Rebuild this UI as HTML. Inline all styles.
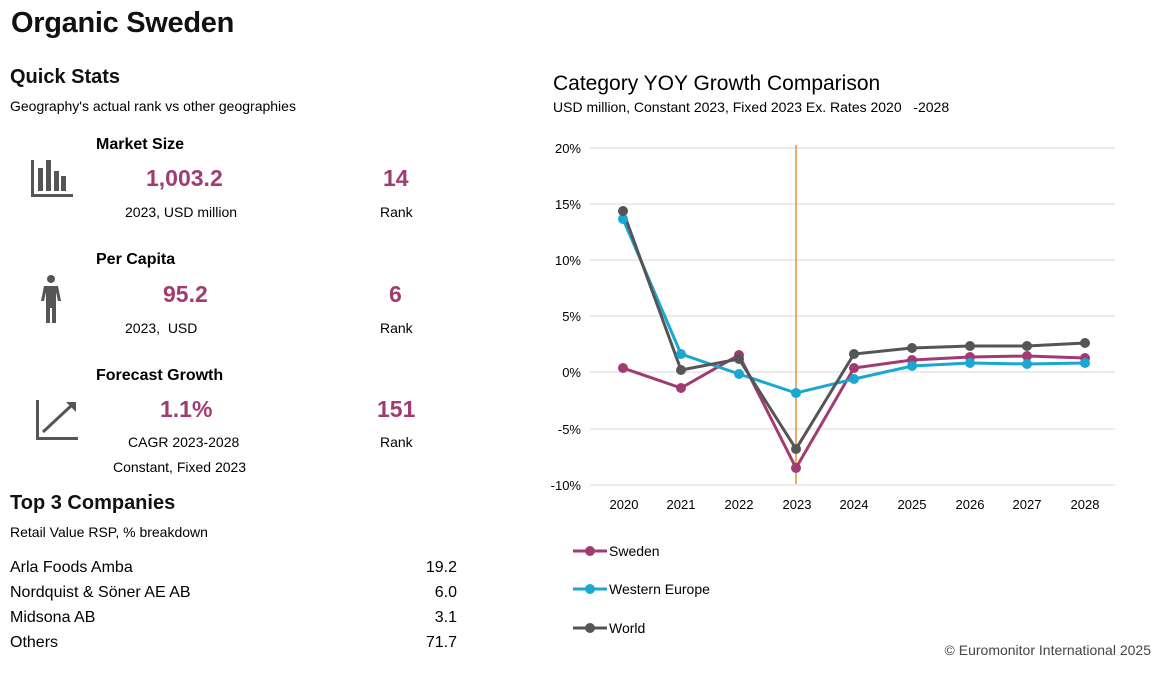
<!DOCTYPE html>
<html><head><meta charset="utf-8"><style>
body{margin:0;width:1166px;height:678px;background:#fff;font-family:"Liberation Sans",sans-serif;color:#000;position:relative;overflow:hidden}
.a{position:absolute;white-space:nowrap}
.big{color:#a23b72;font-weight:bold;font-size:23px}
.h{font-weight:bold;font-size:16px}
.s{font-size:14px}
</style></head><body>
<div class="a" style="left:11px;top:7px;font-size:29px;font-weight:bold;letter-spacing:-0.3px;color:#111">Organic Sweden</div>
<div class="a" style="left:10px;top:66px;font-size:20px;font-weight:bold;color:#111">Quick Stats</div>
<div class="a s" style="left:10px;top:98px;">Geography's actual rank vs other geographies</div>

<div class="a h" style="left:96px;top:136px;">Market Size</div>
<div class="a big" style="left:146px;top:165px;">1,003.2</div>
<div class="a s" style="left:125px;top:204px;">2023, USD million</div>
<div class="a big" style="left:383px;top:165px;">14</div>
<div class="a s" style="left:380px;top:204px;">Rank</div>

<div class="a h" style="left:96px;top:251px;">Per Capita</div>
<div class="a big" style="left:163px;top:281px;">95.2</div>
<div class="a s" style="left:125px;top:320px;">2023,&nbsp; USD</div>
<div class="a big" style="left:389px;top:281px;">6</div>
<div class="a s" style="left:380px;top:320px;">Rank</div>

<div class="a h" style="left:96px;top:367px;">Forecast Growth</div>
<div class="a big" style="left:160px;top:396px;">1.1%</div>
<div class="a s" style="left:128px;top:434px;">CAGR 2023-2028</div>
<div class="a s" style="left:113px;top:459px;">Constant, Fixed 2023</div>
<div class="a big" style="left:377px;top:396px;">151</div>
<div class="a s" style="left:380px;top:434px;">Rank</div>

<svg class="a" style="left:0;top:0" width="100" height="480">
<g fill="#555"><rect x="31" y="160" width="3" height="37"/><rect x="31" y="194" width="42" height="3"/>
<rect x="38" y="168" width="5" height="23"/><rect x="46" y="160" width="5" height="31"/><rect x="54" y="171" width="5" height="20"/><rect x="61" y="176" width="5" height="15"/>
<circle cx="51" cy="279" r="4"/><path d="M44 286h14l3 15h-3l-2-9v31h-4v-15h-2v15h-4v-31l-2 9h-3z"/>
<rect x="36" y="400" width="3" height="40"/><rect x="36" y="437" width="42" height="3"/></g>
<path d="M43 432L73 404" stroke="#555" stroke-width="3"/><path d="M66 402h10v10z" fill="#555"/>
</svg>

<div class="a" style="left:10px;top:492px;font-size:20px;font-weight:bold;color:#111">Top 3 Companies</div>
<div class="a s" style="left:10px;top:524px;">Retail Value RSP, % breakdown</div>
<div class="a" style="left:10px;top:555px;font-size:16px;line-height:25px;">Arla Foods Amba<br>Nordquist &amp; Söner AE AB<br>Midsona AB<br>Others</div>
<div class="a" style="left:420px;top:555px;font-size:16px;line-height:25px;text-align:right;width:37px;">19.2<br>6.0<br>3.1<br>71.7</div>

<div class="a" style="left:553px;top:72px;font-size:21px;">Category YOY Growth Comparison</div>
<div class="a s" style="left:553px;top:99px;">USD million, Constant 2023, Fixed 2023 Ex. Rates 2020 &nbsp; -2028</div>

<svg class="a" style="left:0;top:0" width="1166" height="678" font-family="Liberation Sans" font-size="13">
<g stroke="#d9d9d9" stroke-width="1">
<line x1="590" x2="1115" y1="148" y2="148"/><line x1="590" x2="1115" y1="204" y2="204"/><line x1="590" x2="1115" y1="260" y2="260"/><line x1="590" x2="1115" y1="316" y2="316"/><line x1="590" x2="1115" y1="372" y2="372"/><line x1="590" x2="1115" y1="429" y2="429"/><line x1="590" x2="1115" y1="485" y2="485"/></g>
<g text-anchor="end"><text x="581" y="153">20%</text><text x="581" y="209">15%</text><text x="581" y="265">10%</text><text x="581" y="321">5%</text><text x="581" y="377">0%</text><text x="581" y="434">-5%</text><text x="581" y="490">-10%</text></g>
<g text-anchor="middle"><text x="624" y="509">2020</text><text x="681" y="509">2021</text><text x="739" y="509">2022</text><text x="797" y="509">2023</text><text x="854" y="509">2024</text><text x="912" y="509">2025</text><text x="970" y="509">2026</text><text x="1027" y="509">2027</text><text x="1085" y="509">2028</text></g>
<line x1="796" x2="796" y1="145" y2="484" stroke="#e8913a" stroke-width="1.5"/>
<g fill="none" stroke-width="3">
<polyline stroke="#a23b72" points="623,368 681,388 739,355 796,468 854,368 912,360 970,357 1027,356 1085,358"/>
<polyline stroke="#1aa7d2" points="623,219 681,354 739,374 796,393 854,379 912,366 970,363 1027,364 1085,363"/>
<polyline stroke="#555" points="623,211 681,370 739,359 796,449 854,354 912,348 970,346 1027,346 1085,343"/></g>
<g fill="#a23b72"><circle cx="623" cy="368" r="5"/><circle cx="681" cy="388" r="5"/><circle cx="739" cy="355" r="5"/><circle cx="796" cy="468" r="5"/><circle cx="854" cy="368" r="5"/><circle cx="912" cy="360" r="5"/><circle cx="970" cy="357" r="5"/><circle cx="1027" cy="356" r="5"/><circle cx="1085" cy="358" r="5"/></g>
<g fill="#1aa7d2"><circle cx="623" cy="219" r="5"/><circle cx="681" cy="354" r="5"/><circle cx="739" cy="374" r="5"/><circle cx="796" cy="393" r="5"/><circle cx="854" cy="379" r="5"/><circle cx="912" cy="366" r="5"/><circle cx="970" cy="363" r="5"/><circle cx="1027" cy="364" r="5"/><circle cx="1085" cy="363" r="5"/></g>
<g fill="#555"><circle cx="623" cy="211" r="5"/><circle cx="681" cy="370" r="5"/><circle cx="739" cy="359" r="5"/><circle cx="796" cy="449" r="5"/><circle cx="854" cy="354" r="5"/><circle cx="912" cy="348" r="5"/><circle cx="970" cy="346" r="5"/><circle cx="1027" cy="346" r="5"/><circle cx="1085" cy="343" r="5"/></g>
<g stroke-width="3"><line x1="573" x2="607" y1="551" y2="551" stroke="#a23b72"/><line x1="573" x2="607" y1="589" y2="589" stroke="#1aa7d2"/><line x1="573" x2="607" y1="628" y2="628" stroke="#555"/></g>
<circle cx="590" cy="551" r="5" fill="#a23b72"/><circle cx="590" cy="589" r="5" fill="#1aa7d2"/><circle cx="590" cy="628" r="5" fill="#555"/>
<g font-size="14"><text x="609" y="556">Sweden</text><text x="609" y="594">Western Europe</text><text x="609" y="633">World</text>
<text x="1151" y="655" text-anchor="end" fill="#444">© Euromonitor International 2025</text></g>
</svg>
</body></html>
